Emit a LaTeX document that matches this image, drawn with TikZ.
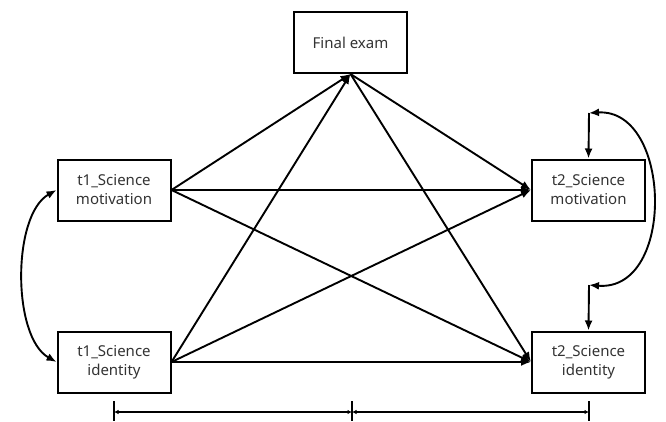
\documentclass[tikz,border=0pt]{standalone}
\usepackage{fontspec}
\setmainfont{Noto Sans}
\usetikzlibrary{arrows.meta}
\begin{document}
\begin{tikzpicture}[x=1pt,y=-1pt,
  var/.style={draw=black,line width=2pt,minimum width=113pt,minimum height=61pt,
    inner sep=0pt,align=center,font=\fontsize{15}{19}\selectfont,text=black!80},
  path/.style={line width=1.9pt,-{Latex[length=10pt,width=8pt]}},
  dbl/.style={line width=1.9pt,{Latex[length=10pt,width=8pt]}-{Latex[length=10pt,width=8pt]}},
  tl/.style={line width=1.5pt,{Latex[length=4.5pt,width=4.5pt]}-{Latex[length=4.5pt,width=4.5pt]}},
  tick/.style={line width=1.8pt}]
\useasboundingbox (0,0) rectangle (666,421);
\node[var] (fe) at (350.5,42.5) {Final exam};
\node[var] (t1m) at (114,190) {t1\_Science\\motivation};
\node[var] (t1i) at (114,362) {t1\_Science\\identity};
\node[var] (t2m) at (588.5,190) {t2\_Science\\motivation};
\node[var] (t2i) at (588.5,362) {t2\_Science\\identity};
% paths
\draw[path] (t1m.east) -- (fe.south);
\draw[path] (t1i.east) -- (fe.south);
\draw[path] (t1m.east) -- (t2m.west);
\draw[path] (t1m.east) -- (t2i.west);
\draw[path] (t1i.east) -- (t2m.west);
\draw[path] (t1i.east) -- (t2i.west);
\draw[path] (fe.south) -- (t2m.west);
\draw[path] (fe.south) -- (t2i.west);
% covariances
\draw[dbl] (t1m.west) .. controls (12,215) and (12,337) .. (t1i.west);
\coordinate (c1) at (589,113);
\coordinate (c2) at (589,285);
\draw[path] (c1) -- (t2m.north);
\draw[path] (c2) -- (t2i.north);
\draw[dbl] (c1) .. controls (672,108) and (676,292) .. (c2);
% timeline
\coordinate (a1) at (114,412);
\coordinate (a2) at (352,412);
\coordinate (a3) at (589,412);
\draw[tick] (114,401) -- (114,421);
\draw[tick] (352,401) -- (352,421);
\draw[tick] (589,401) -- (589,421);
\draw[tl] (a1) -- (a2);
\draw[tl] (a2) -- (a3);
\end{tikzpicture}
\end{document}
